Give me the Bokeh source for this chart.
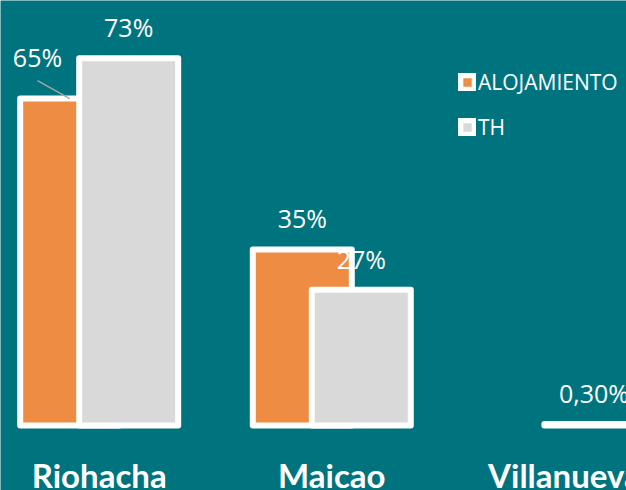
from bokeh.plotting import figure
from bokeh.models import Range1d, Legend, LegendItem
from bokeh.core.properties import value
from bokeh.embed import file_html
from bokeh.resources import INLINE
import numpy as np

categories = ["Riohacha", "Maicao", "Villanueva"]
alojamiento = [65, 35, float("nan")]
th = [73, 27, 0.30]
alojamiento_labels = ["65%", "35%", ""]
th_labels = ["73%", "27%", "0,30%"]

TEAL = "#00747E"
ORANGE = "#EE8C43"
GRAY = "#D9D9D9"

W, H = 626, 490
x0, x1 = -0.4243, 2.267
y0, y1 = -12.92, 84.49
px_x = W / (x1 - x0)
px_y = H / (y1 - y0)

p = figure(width=W, height=H, x_range=Range1d(x0, x1), y_range=Range1d(y0, y1),
           output_backend="svg", toolbar_location=None, min_border=0,
           x_axis_location=None, y_axis_location=None)
p.grid.visible = False
p.outline_line_color = None
p.background_fill_color = TEAL
p.border_fill_color = TEAL

idx = np.arange(len(categories))
bw = 0.4256
dodge = 0.1268

r1 = p.vbar(x=idx - dodge, top=alojamiento, bottom=0, width=bw, fill_color=ORANGE,
            line_color="white", line_width=6, line_join="round")
r2 = p.vbar(x=idx + dodge, top=th, bottom=0, width=bw, fill_color=GRAY,
            line_color="white", line_width=6, line_join="round")

FONT = value("Open Sans")
LAB_SIZE = "25px"
lab_off = -31
for i in range(len(categories)):
    a = alojamiento[i]
    if alojamiento_labels[i] and not np.isnan(a):
        if i == 0:
            # label moved up-left with a leader line
            dxp, dyp = -32.2, -42
            p.segment(x0=[idx[i] - dodge], y0=[a],
                      x1=[idx[i] - dodge + dxp / px_x], y1=[a + 18 / px_y],
                      line_color="#A6A6A6", line_width=1.5)
            p.text(x=[idx[i] - dodge], y=[a], text=[alojamiento_labels[i]],
                   x_offset=dxp, y_offset=dyp, text_align="center", text_baseline="middle",
                   text_color="white", text_font=FONT, text_font_size=LAB_SIZE)
        else:
            p.text(x=[idx[i] - dodge], y=[a], text=[alojamiento_labels[i]],
                   y_offset=lab_off, text_align="center", text_baseline="middle",
                   text_color="white", text_font=FONT, text_font_size=LAB_SIZE)
p.text(x=idx + dodge, y=th, text=th_labels, y_offset=lab_off, text_align="center",
       text_baseline="middle", text_color="white", text_font=FONT, text_font_size=LAB_SIZE)

# category labels
p.text(x=idx, y=[0] * len(categories), y_offset=49, text=categories, text_align="center",
       text_baseline="middle", text_color="white", text_font=value("Lato"),
       text_font_style="bold", text_font_size="33px")

legend = Legend(items=[LegendItem(label="ALOJAMIENTO", renderers=[r1]),
                       LegendItem(label="TH", renderers=[r2])],
                location=(458, 349), glyph_width=18, glyph_height=18,
                label_text_font="Open Sans", label_text_font_size="21px",
                label_text_color="white", label_standoff=2, spacing=17,
                padding=0, margin=0, border_line_color=None,
                background_fill_alpha=0)
p.add_layout(legend)

open("out.html", "w").write(file_html(p, INLINE))
